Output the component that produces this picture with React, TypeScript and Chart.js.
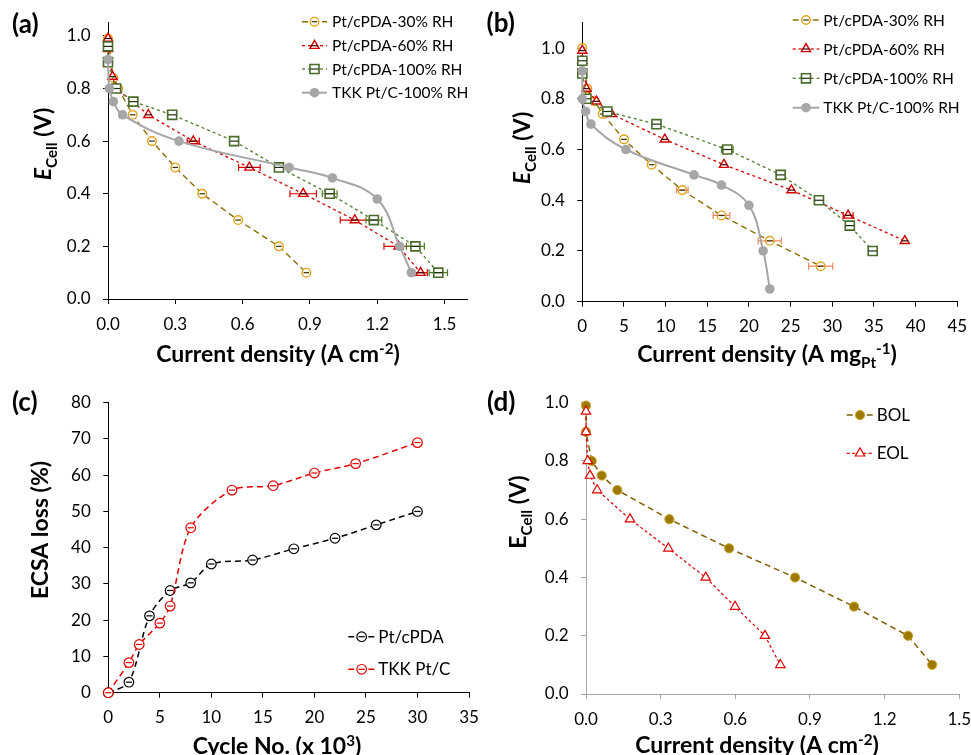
import React, { useEffect, useRef } from 'react';
import { Chart, registerables } from 'chart.js';
Chart.register(...registerables);

const FONT = "Lato, 'Open Sans', sans-serif";

// ---------- Panel (a): E vs current density (A cm-2) ----------
const aX30 = [0, 0.024, 0.046, 0.11, 0.196, 0.30, 0.42, 0.58, 0.762, 0.884];
const aY30 = [0.99, 0.84, 0.80, 0.70, 0.60, 0.50, 0.40, 0.30, 0.20, 0.10];
const aE30 = [0.004, 0.004, 0.004, 0.004, 0.004, 0.004, 0.004, 0.006, 0.006, 0.006];
const aX60 = [0, 0, 0.02, 0.036, 0.18, 0.38, 0.63, 0.87, 1.10, 1.295, 1.393];
const aY60 = [0.99, 0.95, 0.845, 0.80, 0.70, 0.60, 0.50, 0.40, 0.30, 0.20, 0.10];
const aE60 = [0.003, 0.003, 0.005, 0.005, 0.01, 0.027, 0.048, 0.059, 0.065, 0.065, 0.03];
const aX100 = [0, 0, 0.036, 0.113, 0.286, 0.562, 0.762, 0.988, 1.185, 1.37, 1.472];
const aY100 = [0.96, 0.90, 0.80, 0.75, 0.70, 0.60, 0.50, 0.40, 0.30, 0.20, 0.10];
const aE100 = [0.003, 0.003, 0.005, 0.006, 0.008, 0.01, 0.02, 0.033, 0.035, 0.04, 0.041];
const aXTKK = [0, 0.006, 0.024, 0.065, 0.316, 0.807, 1.0, 1.20, 1.30, 1.352];
const aYTKK = [0.91, 0.80, 0.75, 0.70, 0.60, 0.50, 0.46, 0.38, 0.20, 0.10];
const aXTicks = [0, 0.3, 0.6, 0.9, 1.2, 1.5];

// ---------- Panel (b): E vs mass activity (A mgPt-1) ----------
const bX30 = [0, 0.6, 1.5, 2.45, 5.0, 8.33, 12.0, 16.7, 22.5, 28.6];
const bY30 = [1.0, 0.84, 0.79, 0.74, 0.64, 0.54, 0.44, 0.34, 0.24, 0.14];
const bE30 = [0.05, 0.05, 0.05, 0.1, 0.2, 0.3, 0.7, 1.0, 1.4, 1.45];
const bX60 = [0, 0, 0.5, 1.7, 3.5, 9.9, 17.0, 25.1, 31.9, 38.7];
const bY60 = [0.99, 0.95, 0.84, 0.79, 0.74, 0.64, 0.54, 0.44, 0.34, 0.24];
const bE60 = [0.05, 0.05, 0.05, 0.1, 0.15, 0.2, 0.3, 0.3, 0.6, 0.3];
const bX100 = [0, 0, 0.5, 3.0, 8.9, 17.4, 23.8, 28.4, 32.1, 34.85];
const bY100 = [0.95, 0.90, 0.80, 0.75, 0.70, 0.60, 0.50, 0.40, 0.30, 0.20];
const bE100 = [0.05, 0.05, 0.05, 0.15, 0.3, 0.7, 0.3, 0.5, 0.3, 0.66];
const bXTKK = [0, 0, 0.4, 1.04, 5.24, 13.4, 16.7, 20.0, 21.7, 22.5];
const bYTKK = [0.91, 0.80, 0.75, 0.70, 0.60, 0.50, 0.46, 0.38, 0.20, 0.05];
const bXTicks = [0, 5, 10, 15, 20, 25, 30, 35, 40, 45];

// ---------- Panel (c): ECSA loss vs cycles ----------
const cCyclesPt = [0, 2, 4, 6, 8, 10, 14, 18, 22, 26, 30];
const cLossPt = [0, 2.9, 21.2, 28.2, 30.3, 35.5, 36.6, 39.7, 42.6, 46.3, 50.0];
const cCyclesTKK = [0, 2, 3, 5, 6, 8, 12, 16, 20, 24, 30];
const cLossTKK = [0, 8.3, 13.3, 19.2, 23.9, 45.5, 55.9, 57.1, 60.6, 63.2, 69.0];
const cXTicks = [0, 5, 10, 15, 20, 25, 30, 35];
const cYTicks = [0, 10, 20, 30, 40, 50, 60, 70, 80];

// ---------- Panel (d): BOL / EOL polarisation ----------
const dXBOL = [0, 0, 0.023, 0.063, 0.126, 0.335, 0.575, 0.84, 1.077, 1.294, 1.391];
const dYBOL = [0.99, 0.90, 0.80, 0.75, 0.70, 0.60, 0.50, 0.40, 0.30, 0.20, 0.10];
const dXEOL = [0, 0, 0.007, 0.016, 0.045, 0.177, 0.331, 0.481, 0.599, 0.719, 0.781];
const dYEOL = [0.97, 0.90, 0.80, 0.75, 0.70, 0.60, 0.50, 0.40, 0.30, 0.20, 0.10];
const dXTicks = [0, 0.3, 0.6, 0.9, 1.2, 1.5];

const vTicks = [0, 0.2, 0.4, 0.6, 0.8, 1.0];

const CW = 520;
const CH = 375;
const TITLE = 23;
const TICK = 17;
const LAB = 26;

const zip = (xs: number[], ys: number[]) => xs.map((x, i) => ({ x, y: ys[i] }));

type Seg = { t: string; sub?: boolean; sup?: boolean; italic?: boolean };
type TextItem = { x: number; y: number; size: number; bold?: boolean; rotate?: boolean; align?: 'left' | 'center'; segs: Seg[] };
type LegendSpec = { x0: number; x1: number; tx: number; size: number; entries: { ds: number; text: string; y: number }[] };

function drawRich(ctx: CanvasRenderingContext2D, item: TextItem) {
  const base = item.size;
  const fontFor = (s: Seg) => {
    const sz = s.sub || s.sup ? base * 0.66 : base;
    return `${s.italic ? 'italic ' : ''}${item.bold ? 'bold ' : ''}${sz}px ${FONT}`;
  };
  const widths: number[] = [];
  let total = 0;
  for (const s of item.segs) {
    ctx.font = fontFor(s);
    const w = ctx.measureText(s.t).width;
    widths.push(w);
    total += w;
  }
  ctx.save();
  ctx.translate(item.x, item.y);
  if (item.rotate) ctx.rotate(-Math.PI / 2);
  ctx.textBaseline = 'alphabetic';
  ctx.textAlign = 'left';
  ctx.fillStyle = '#000';
  let x = item.align === 'left' ? 0 : -total / 2;
  const by = base * 0.36;
  item.segs.forEach((s, i) => {
    ctx.font = fontFor(s);
    let dy = by;
    if (s.sub) dy += base * 0.24;
    if (s.sup) dy -= base * 0.36;
    ctx.fillText(s.t, x, dy);
    x += widths[i];
  });
  ctx.restore();
}

function drawMarker(ctx: CanvasRenderingContext2D, style: string, x: number, y: number, r: number, fill: string, stroke: string, lw: number) {
  ctx.save();
  ctx.setLineDash([]);
  ctx.lineWidth = lw;
  ctx.strokeStyle = stroke;
  ctx.fillStyle = fill;
  ctx.beginPath();
  if (style === 'rect') {
    const s = Math.SQRT1_2 * r;
    ctx.rect(x - s, y - s, 2 * s, 2 * s);
  } else if (style === 'triangle') {
    const a = (2 * Math.PI) / 3;
    ctx.moveTo(x, y - r);
    ctx.lineTo(x + r * Math.sin(a), y - r * Math.cos(a));
    ctx.lineTo(x + r * Math.sin(2 * a), y - r * Math.cos(2 * a));
    ctx.closePath();
  } else {
    ctx.arc(x, y, r, 0, Math.PI * 2);
  }
  ctx.fill();
  if (lw > 0) ctx.stroke();
  ctx.restore();
}

function makeDeco(texts: TextItem[], legend: LegendSpec | null) {
  return {
    id: 'deco',
    afterDatasetDraw(chart: any, args: any) {
      const ds = chart.data.datasets[args.index];
      if (!ds.errX && !ds.innerColor) return;
      const xs = chart.scales.x;
      const ctx: CanvasRenderingContext2D = chart.ctx;
      ctx.save();
      ctx.setLineDash([]);
      ctx.lineWidth = 1.2;
      args.meta.data.forEach((el: any, j: number) => {
        const d = ds.data[j];
        const px = el.x;
        const py = el.y;
        const r = ds.pointRadius;
        if (ds.errX) {
          const e = ds.errX[j];
          const x0 = xs.getPixelForValue(d.x - e);
          const x1 = xs.getPixelForValue(d.x + e);
          if (px - x0 > r * 0.9) {
            ctx.strokeStyle = ds.errColor;
            ctx.beginPath();
            ctx.moveTo(x0, py);
            ctx.lineTo(x1, py);
            ctx.moveTo(x0, py - 3.5);
            ctx.lineTo(x0, py + 3.5);
            ctx.moveTo(x1, py - 3.5);
            ctx.lineTo(x1, py + 3.5);
            ctx.stroke();
          }
        }
        if (ds.innerColor) {
          const h = r * 0.65;
          ctx.strokeStyle = ds.innerColor;
          ctx.beginPath();
          ctx.moveTo(px - h, py);
          ctx.lineTo(px + h, py);
          ctx.stroke();
        }
      });
      ctx.restore();
    },
    afterDraw(chart: any) {
      const ctx: CanvasRenderingContext2D = chart.ctx;
      if (legend) {
        legend.entries.forEach((en) => {
          const ds = chart.data.datasets[en.ds];
          ctx.save();
          ctx.strokeStyle = ds.borderColor;
          ctx.lineWidth = ds.borderWidth;
          ctx.setLineDash(ds.borderDash || []);
          ctx.beginPath();
          ctx.moveTo(legend.x0, en.y);
          ctx.lineTo(legend.x1, en.y);
          ctx.stroke();
          ctx.restore();
          const mx = (legend.x0 + legend.x1) / 2;
          drawMarker(ctx, ds.pointStyle, mx, en.y, ds.pointRadius, ds.pointBackgroundColor, ds.pointBorderColor, ds.pointBorderWidth);
          if (ds.innerColor) {
            ctx.save();
            ctx.strokeStyle = ds.innerColor;
            ctx.lineWidth = 1.2;
            ctx.beginPath();
            ctx.moveTo(mx - ds.pointRadius * 0.65, en.y);
            ctx.lineTo(mx + ds.pointRadius * 0.65, en.y);
            ctx.stroke();
            ctx.restore();
          }
          ctx.save();
          ctx.fillStyle = '#000';
          ctx.font = `${legend.size}px ${FONT}`;
          ctx.textBaseline = 'alphabetic';
          ctx.textAlign = 'left';
          ctx.fillText(en.text, legend.tx, en.y + legend.size * 0.36);
          ctx.restore();
        });
      }
      texts.forEach((t) => drawRich(ctx, t));
    },
  };
}

type Spec = {
  area: { l: number; t: number; r: number; b: number };
  xMin: number; xMax: number; yMin: number; yMax: number;
  xTicks: number[]; yTicks: number[];
  xDec: number; yDec: number;
  axisColor: string;
  datasets: any[];
  texts: TextItem[];
  legend: LegendSpec | null;
};

function makeConfig(s: Spec): any {
  const tickFont = { family: FONT, size: TICK };
  const grid = { display: true, drawOnChartArea: false, drawTicks: true, tickLength: 5, color: s.axisColor, lineWidth: 1 };
  const border = { display: true, color: s.axisColor, width: 1 };
  return {
    type: 'scatter',
    data: { datasets: s.datasets.map((d, i) => ({ clip: false, order: s.datasets.length - i, showLine: true, ...d })) },
    options: {
      responsive: false,
      animation: false,
      devicePixelRatio: 1,
      events: [],
      layout: { padding: { left: 0, top: s.area.t, right: CW - s.area.r, bottom: 0 } },
      plugins: { legend: { display: false }, tooltip: { enabled: false } },
      scales: {
        x: {
          type: 'linear', min: s.xMin, max: s.xMax,
          afterFit: (sc: any) => { sc.height = CH - s.area.b; },
          afterBuildTicks: (sc: any) => { sc.ticks = s.xTicks.map((v) => ({ value: v })); },
          ticks: { font: tickFont, color: '#000', padding: 10, maxRotation: 0, autoSkip: false, callback: (v: any) => Number(v).toFixed(s.xDec) },
          grid, border,
        },
        y: {
          type: 'linear', min: s.yMin, max: s.yMax,
          afterFit: (sc: any) => { sc.width = s.area.l; },
          afterBuildTicks: (sc: any) => { sc.ticks = s.yTicks.map((v) => ({ value: v })); },
          ticks: { font: tickFont, color: '#000', padding: 12.5, autoSkip: false, callback: (v: any) => Number(v).toFixed(s.yDec) },
          grid, border,
        },
      },
    },
    plugins: [makeDeco(s.texts, s.legend)],
  };
}

const C30 = { line: '#8C6D00', mark: '#E3A21A' };
const C60 = '#D40000';
const C100 = { line: '#4F7A2A', mark: '#4A6B2A' };
const CTKK = '#A6A6A6';

function styles30(err: number[], errColor: string) {
  return { borderColor: C30.line, borderWidth: 1.4, borderDash: [6, 4], pointStyle: 'circle', pointRadius: 4.3, pointBorderColor: C30.mark, pointBackgroundColor: '#ffffff', pointBorderWidth: 1.4, errX: err, errColor, innerColor: '#3A3000' };
}
function styles60(err: number[]) {
  return { borderColor: C60, borderWidth: 1.3, borderDash: [3, 3], pointStyle: 'triangle', pointRadius: 5.3, pointBorderColor: C60, pointBackgroundColor: '#ffffff', pointBorderWidth: 1.4, errX: err, errColor: C60, innerColor: '#400000' };
}
function styles100(err: number[]) {
  return { borderColor: C100.line, borderWidth: 1.3, borderDash: [3, 3], pointStyle: 'rect', pointRadius: 6.4, pointBorderColor: C100.mark, pointBackgroundColor: '#ffffff', pointBorderWidth: 1.6, errX: err, errColor: C100.line, innerColor: '#1E2E10' };
}
const stylesTKK = { borderColor: CTKK, borderWidth: 2, borderDash: [], tension: 0.4, pointStyle: 'circle', pointRadius: 4.8, pointBorderColor: CTKK, pointBackgroundColor: CTKK, pointBorderWidth: 0 };

const legendNames = ['Pt/cPDA-30% RH', 'Pt/cPDA-60% RH', 'Pt/cPDA-100% RH', 'TKK Pt/C-100% RH'];

const specA: Spec = {
  area: { l: 108, t: 17, r: 467, b: 299 },
  xMin: 0, xMax: 1.6, yMin: 0, yMax: 1.05,
  xTicks: aXTicks, yTicks: vTicks, xDec: 1, yDec: 1,
  axisColor: '#000',
  datasets: [
    { label: legendNames[0], data: zip(aX30, aY30), ...styles30(aE30, '#5A4A00') },
    { label: legendNames[1], data: zip(aX60, aY60), ...styles60(aE60) },
    { label: legendNames[2], data: zip(aX100, aY100), ...styles100(aE100) },
    { label: legendNames[3], data: zip(aXTKK, aYTKK), ...stylesTKK },
  ],
  texts: [
    { x: 12, y: 24, size: LAB, bold: true, align: 'left', segs: [{ t: '(a)' }] },
    { x: 278, y: 354, size: TITLE, bold: true, segs: [{ t: 'Current density (A cm' }, { t: '-2', sup: true }, { t: ')' }] },
    { x: 43, y: 144, size: TITLE, bold: true, rotate: true, segs: [{ t: 'E', italic: true }, { t: 'Cell', sub: true }, { t: ' (V)' }] },
  ],
  legend: { x0: 302, x1: 327, tx: 332, size: 15.5, entries: legendNames.map((t, i) => ({ ds: i, text: t, y: [21.7, 45.7, 69, 92.7][i] })) },
};

const specB: Spec = {
  area: { l: 102.3, t: 16.7, r: 477.3, b: 301.7 },
  xMin: 0, xMax: 45, yMin: 0, yMax: 1.1,
  xTicks: bXTicks, yTicks: vTicks, xDec: 0, yDec: 1,
  axisColor: '#000',
  datasets: [
    { label: legendNames[0], data: zip(bX30, bY30), ...styles30(bE30, '#EE8A5A') },
    { label: legendNames[1], data: zip(bX60, bY60), ...styles60(bE60) },
    { label: legendNames[2], data: zip(bX100, bY100), ...styles100(bE100) },
    { label: legendNames[3], data: zip(bXTKK, bYTKK), ...stylesTKK },
  ],
  texts: [
    { x: 6.5, y: 23, size: LAB, bold: true, align: 'left', segs: [{ t: '(b)' }] },
    { x: 287, y: 354, size: TITLE, bold: true, segs: [{ t: 'Current density (A mg' }, { t: 'Pt', sub: true }, { t: '-1', sup: true }, { t: ')' }] },
    { x: 42, y: 148, size: TITLE, bold: true, rotate: true, segs: [{ t: 'E', italic: true }, { t: 'Cell', sub: true }, { t: ' (V)' }] },
  ],
  legend: { x0: 312.7, x1: 339.3, tx: 343.3, size: 15.5, entries: legendNames.map((t, i) => ({ ds: i, text: t, y: [20, 49, 78.3, 107.7][i] })) },
};

const specC: Spec = {
  area: { l: 108.3, t: 13.3, r: 469, b: 312.7 },
  xMin: 0, xMax: 35, yMin: 0, yMax: 80,
  xTicks: cXTicks, yTicks: cYTicks, xDec: 0, yDec: 0,
  axisColor: '#000',
  datasets: [
    { label: 'Pt/cPDA', data: zip(cCyclesPt, cLossPt), borderColor: '#000', borderWidth: 1.5, borderDash: [6, 4], tension: 0.3, pointStyle: 'circle', pointRadius: 4.8, pointBorderColor: '#000', pointBackgroundColor: '#ffffff', pointBorderWidth: 1.2, innerColor: '#000' },
    { label: 'TKK Pt/C', data: zip(cCyclesTKK, cLossTKK), borderColor: '#E00000', borderWidth: 1.5, borderDash: [6, 4], tension: 0.3, pointStyle: 'circle', pointRadius: 4.8, pointBorderColor: '#E00000', pointBackgroundColor: '#ffffff', pointBorderWidth: 1.2, innerColor: '#E00000' },
  ],
  texts: [
    { x: 12, y: 22, size: LAB, bold: true, align: 'left', segs: [{ t: '(c)' }] },
    { x: 277, y: 366, size: TITLE, bold: true, segs: [{ t: 'Cycle No. (x 10' }, { t: '3', sup: true }, { t: ')' }] },
    { x: 40, y: 150, size: TITLE, bold: true, rotate: true, segs: [{ t: 'ECSA loss (%)' }] },
  ],
  legend: { x0: 348.3, x1: 375, tx: 378.3, size: 17, entries: [{ ds: 0, text: 'Pt/cPDA', y: 256.7 }, { ds: 1, text: 'TKK Pt/C', y: 289.3 }] },
};

const specD: Spec = {
  area: { l: 106, t: 15.7, r: 479.3, b: 314 },
  xMin: 0, xMax: 1.5, yMin: 0, yMax: 1.0,
  xTicks: dXTicks, yTicks: vTicks, xDec: 1, yDec: 1,
  axisColor: '#A6A6A6',
  datasets: [
    { label: 'BOL', data: zip(dXBOL, dYBOL), borderColor: '#7F6000', borderWidth: 1.5, borderDash: [6, 4], pointStyle: 'circle', pointRadius: 4.6, pointBorderColor: '#C9A227', pointBackgroundColor: '#9C7A00', pointBorderWidth: 1 },
    { label: 'EOL', data: zip(dXEOL, dYEOL), borderColor: '#E00000', borderWidth: 1.2, borderDash: [3, 2.5], pointStyle: 'triangle', pointRadius: 5.4, pointBorderColor: '#E00000', pointBackgroundColor: '#ffffff', pointBorderWidth: 1.2 },
  ],
  texts: [
    { x: 7, y: 22, size: LAB, bold: true, align: 'left', segs: [{ t: '(d)' }] },
    { x: 277, y: 365, size: TITLE, bold: true, segs: [{ t: 'Current density (A cm' }, { t: '-2', sup: true }, { t: ')' }] },
    { x: 38, y: 132, size: TITLE, bold: true, rotate: true, segs: [{ t: 'E' }, { t: 'Cell', sub: true }, { t: ' (V)' }] },
  ],
  legend: { x0: 366.7, x1: 393.3, tx: 396.7, size: 17, entries: [{ ds: 0, text: 'BOL', y: 35 }, { ds: 1, text: 'EOL', y: 73.3 }] },
};

function Panel({ left, top, spec }: { left: number; top: number; spec: Spec }) {
  const ref = useRef<HTMLCanvasElement>(null);
  useEffect(() => {
    const chart = new Chart(ref.current as HTMLCanvasElement, makeConfig(spec));
    return () => chart.destroy();
  }, [spec]);
  return <canvas ref={ref} width={CW} height={CH} style={{ position: 'absolute', left, top, width: CW, height: CH }} />;
}

export default function App() {
  return (
    <div style={{ position: 'absolute', left: 0, top: 0, width: 971, height: 755, overflow: 'hidden', background: '#fff' }}>
      <Panel left={0} top={0} spec={specA} />
      <Panel left={480} top={0} spec={specB} />
      <Panel left={0} top={380} spec={specC} />
      <Panel left={480} top={380} spec={specD} />
    </div>
  );
}
